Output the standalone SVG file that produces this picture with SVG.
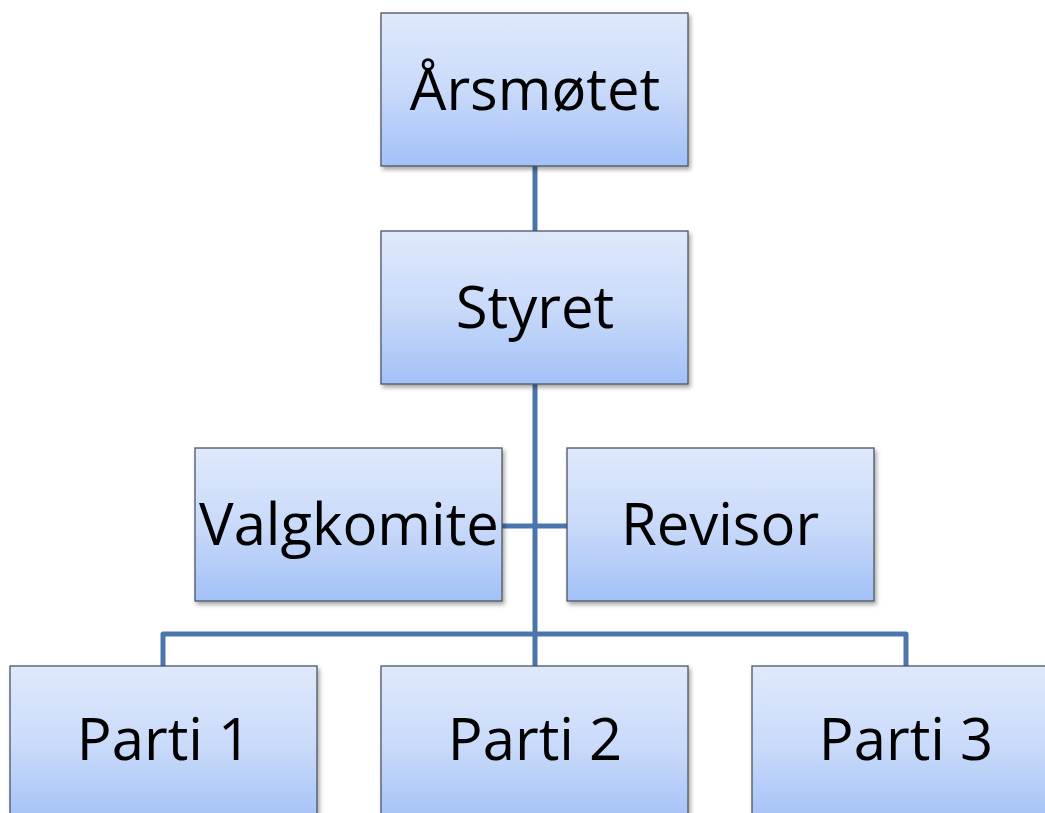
<svg xmlns="http://www.w3.org/2000/svg" width="1045" height="813" viewBox="0 0 1045 813">
<defs>
<linearGradient id="g" x1="0" y1="0" x2="0" y2="1">
<stop offset="0" stop-color="#dfe9fc"/>
<stop offset="0.5" stop-color="#c9dafa"/>
<stop offset="1" stop-color="#a2c1f7"/>
</linearGradient>
<filter id="sh" x="-5%" y="-5%" width="112%" height="115%">
<feDropShadow dx="2" dy="3" stdDeviation="2" flood-color="#000" flood-opacity="0.35"/>
</filter>
</defs>
<style>
.box{fill:url(#g);stroke:#4d5560;stroke-width:1.3;filter:url(#sh)}
.lbl{font-family:"Open Sans","Noto Sans",sans-serif;font-size:58px;fill:#000;text-anchor:middle}
.con{stroke:#4a76ad;stroke-width:5;fill:none;stroke-linejoin:round}
</style>
<rect width="1045" height="813" fill="#ffffff"/>
<g id="connectors">
<line class="con" x1="535" y1="166" x2="535" y2="231"/>
<line class="con" x1="535" y1="384" x2="535" y2="666"/>
<line class="con" x1="502" y1="526" x2="567" y2="526"/>
<polyline class="con" points="163,666 163,634 906,634 906,666"/>
</g>
<g id="arsmotet">
<rect class="box" x="381" y="13" width="307" height="153"/>
<text class="lbl" x="535" y="110">Årsmøtet</text>
</g>
<g id="styret">
<rect class="box" x="381" y="231" width="307" height="153"/>
<text class="lbl" x="535" y="328">Styret</text>
</g>
<g id="valgkomite">
<rect class="box" x="195" y="448" width="307" height="153"/>
<text class="lbl" x="349" y="545">Valgkomite</text>
</g>
<g id="revisor">
<rect class="box" x="567" y="448" width="307" height="153"/>
<text class="lbl" x="720" y="545">Revisor</text>
</g>
<g id="parti1">
<rect class="box" x="10" y="666" width="307" height="160"/>
<text class="lbl" x="164" y="760">Parti 1</text>
</g>
<g id="parti2">
<rect class="box" x="381" y="666" width="307" height="160"/>
<text class="lbl" x="535" y="760">Parti 2</text>
</g>
<g id="parti3">
<rect class="box" x="752" y="666" width="307" height="160"/>
<text class="lbl" x="906" y="760">Parti 3</text>
</g>
</svg>
